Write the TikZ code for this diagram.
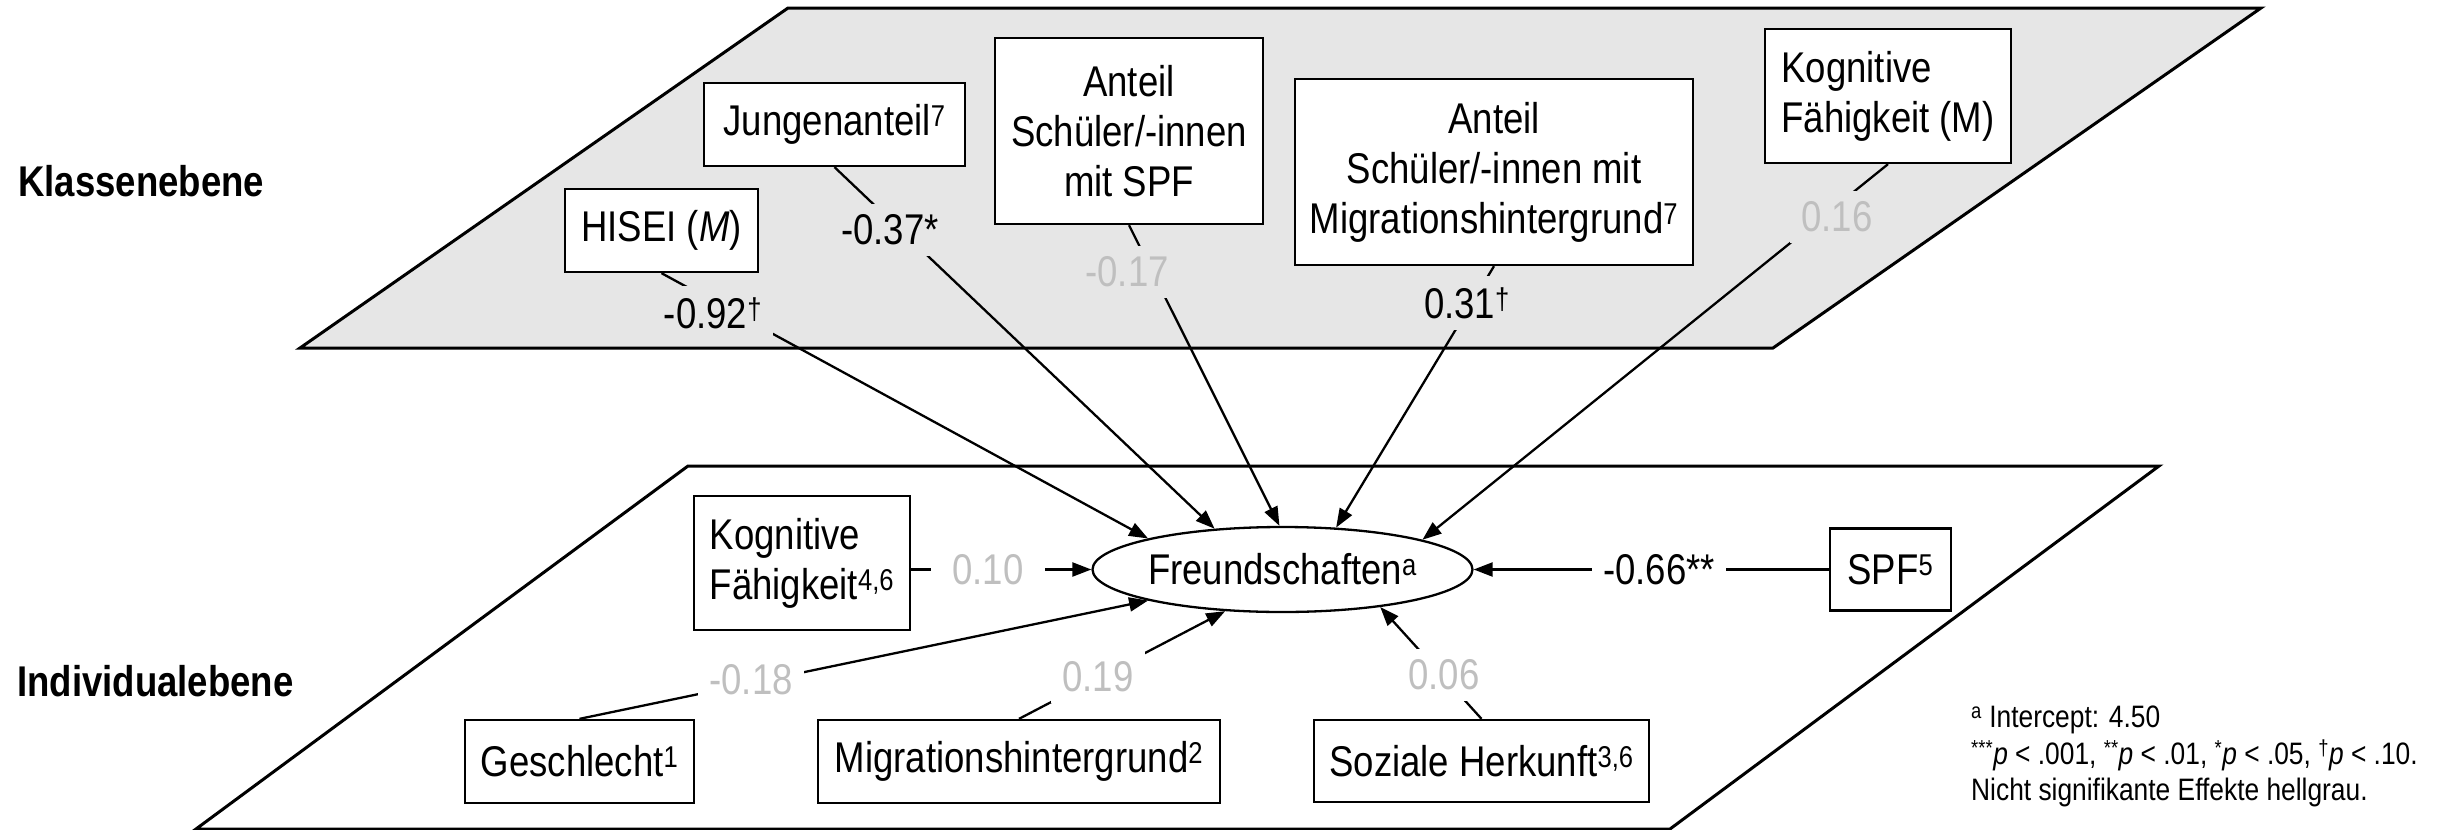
\documentclass[tikz,border=0pt]{standalone}
\usepackage{fontspec}
\setmainfont{Liberation Sans}[FakeStretch=0.85]
\usetikzlibrary{shapes.geometric,arrows.meta}
\definecolor{ns}{RGB}{191,191,191}
\definecolor{planefill}{RGB}{230,230,230}
\begin{document}
\begin{tikzpicture}[x=1pt,y=-1pt,
  font=\fontsize{43}{50}\selectfont,
  box/.style={draw, line width=2.3pt, fill=white, inner sep=0pt, align=center},
  lab/.style={inner sep=11pt},
  toplab/.style={lab, fill=planefill},
  botlab/.style={lab, fill=white},
  nsig/.style={text=ns},
  conn/.style={line width=2.3pt},
  arr/.style={conn, -{Triangle[length=19pt,width=14pt]}},
  plane/.style={draw, line width=3pt},
  level/.style={font=\fontsize{43}{50}\selectfont\bfseries, anchor=west, inner sep=0pt}]

\useasboundingbox (0,0) rectangle (2453,830);

% planes
\path[plane, fill=planefill] (788,8) -- (2261,8) -- (1773,348) -- (300,348) -- cycle;
\path[plane] (688,466) -- (2159,466) -- (1670,829) -- (196,829) -- cycle;

% level titles
\node[level] (kl) at (18,181) {Klassenebene};
\node[level] (il) at (17,681) {Individualebene};

% class-level boxes
\node[box, minimum width=193, minimum height=83] (hisei) at (661.5,230.5) {HISEI (\textit{M})};
\node[box, minimum width=261, minimum height=83] (jungen) at (834.5,124.5) {Jungenanteil\textsuperscript{7}};
\node[box, minimum width=268, minimum height=186] (aspf) at (1129,131) {Anteil\\Schüler/-innen\\mit SPF};
\node[box, minimum width=398, minimum height=186] (amig) at (1494,172) {Anteil\\Schüler/-innen mit\\Migrationshintergrund\textsuperscript{7}};
\node[box, align=left, minimum width=246, minimum height=134] (kogm) at (1888,96) {Kognitive\\Fähigkeit (M)};

% outcome
\node[box, ellipse, minimum width=377, minimum height=85] (fr) at (1282.5,569.5) {Freundschaften\textsuperscript{a}};

% individual-level boxes
\node[box, align=left, minimum width=216, minimum height=134] (kogi) at (802,563) {Kognitive\\Fähigkeit\textsuperscript{4,6}};
\node[box, minimum width=121, minimum height=82] (spf) at (1890.5,569.5) {SPF\textsuperscript{5}};
\node[box, minimum width=229, minimum height=83] (geschl) at (579.5,761.5) {Geschlecht\textsuperscript{1}};
\node[box, minimum width=402, minimum height=83] (migi) at (1019,761.5) {Migrationshintergrund\textsuperscript{2}};
\node[box, minimum width=335, minimum height=82] (soz) at (1481.5,761) {Soziale Herkunft\textsuperscript{3,6}};

% connectors
\draw[arr] (hisei.south) -- (fr.167.3);
\draw[arr] (jungen.south) -- (fr.149.5);
\draw[arr] (aspf.south) -- (fr.94.6);
\draw[arr] (amig.south) -- (fr.38);
\draw[arr] (kogm.south) -- (fr.12.7);
\draw[arr] (kogi.east |- fr.west) -- (fr.west);
\draw[arr] (spf.west) -- (fr.east);
\draw[arr] (geschl.north) -- (fr.193.9);
\draw[arr] (migi.north) -- (fr.-144);
\draw[arr] (soz.north) -- (fr.-21.3);

% coefficient labels
\node[toplab] (l1) at (713,313) {-0.92\textsuperscript{†}};
\node[toplab] (l2) at (890,230) {-0.37*};
\node[toplab, nsig] (l3) at (1127,272) {-0.17};
\node[toplab] (l4) at (1467,303) {0.31\textsuperscript{†}};
\node[toplab, nsig] (l5) at (1837,217) {0.16};
\node[botlab, nsig, inner xsep=21pt] (l6) at (988,570) {0.10};
\node[botlab, nsig] (l7) at (751,680) {-0.18};
\node[botlab, nsig] (l8) at (1098,677) {0.19};
\node[botlab, nsig] (l9) at (1444,675) {0.06};
\node[botlab] (l10) at (1659,570) {-0.66**};

% footnote
\node[anchor=north west, inner sep=0pt, align=left, font=\fontsize{31}{36.5}\selectfont] (note) at (1971,706)
  {\textsuperscript{a} Intercept: 4.50\\
   \textsuperscript{***}\textit{p} < .001, \textsuperscript{**}\textit{p} < .01, \textsuperscript{*}\textit{p} < .05, \textsuperscript{†}\textit{p} < .10.\\
   Nicht signifikante Effekte hellgrau.};
\end{tikzpicture}
\end{document}
